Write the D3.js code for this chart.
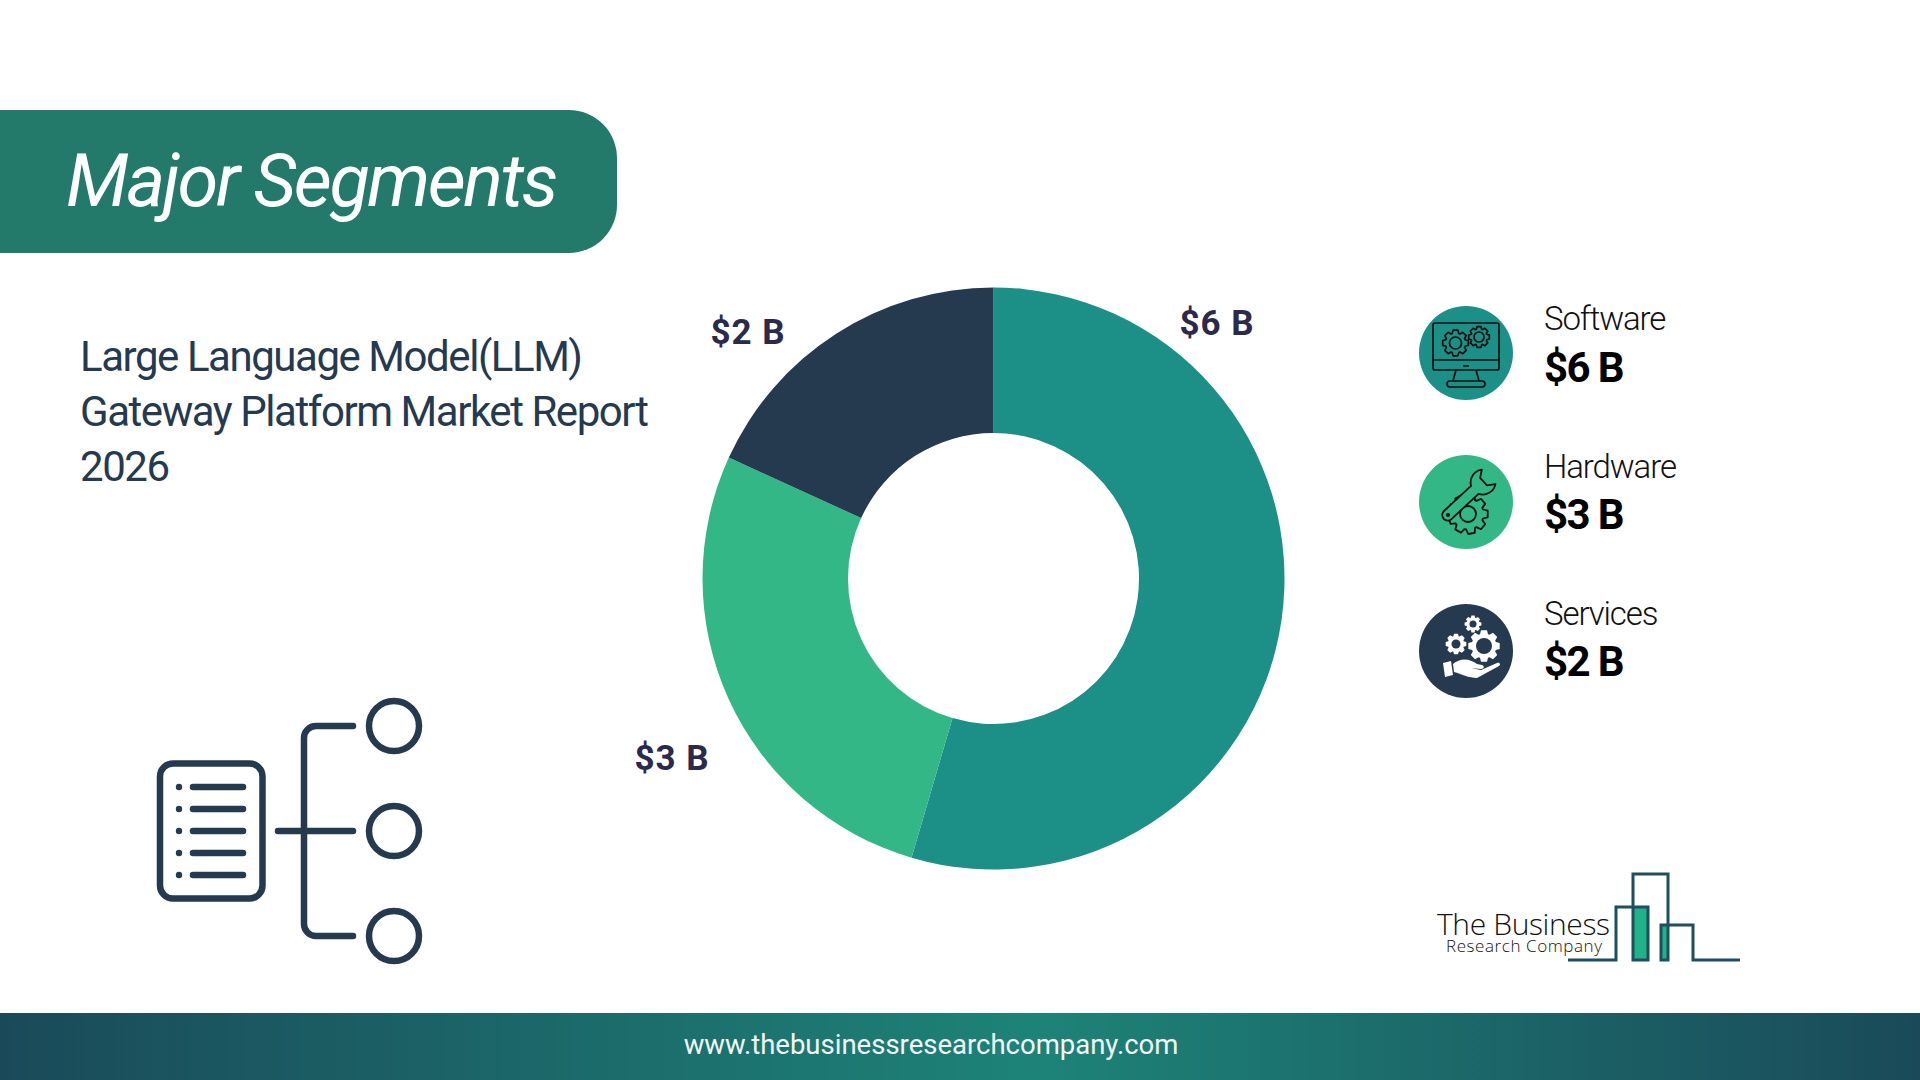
<!DOCTYPE html>
<html>
<head>
<meta charset="utf-8">
<script src="https://cdn.jsdelivr.net/npm/d3@7"></script>
<style>
  html, body { margin: 0; padding: 0; background: #fff; overflow: hidden; }
  text { font-family: Roboto, sans-serif; }
</style>
</head>
<body>
<svg class="stage" width="1920" height="1080"></svg>
<script>
// chart values
var segments = ['Software', 'Hardware', 'Services'];
var values = [6, 3, 2];
var valueLabels = ['$6 B', '$3 B', '$2 B'];
var segmentColors = ['#1c8f86', '#34b787', '#25394f'];

var titleLines = ['Large Language Model(LLM)', 'Gateway Platform Market Report', '2026'];

var svg = d3.select('.stage');
var navy = '#25394f', ink = '#111';

// footer + header
var grad = svg.append('defs').append('linearGradient').attr('id', 'foot');
[[0, '#1a4a59'], [0.54, '#1d8378'], [1, '#1a4a59']].forEach(function(s){
  grad.append('stop').attr('offset', s[0]).attr('stop-color', s[1]);
});
svg.append('rect').attr('x', 0).attr('y', 1013).attr('width', 1920).attr('height', 67).attr('fill', 'url(#foot)');
svg.append('text').attr('x', 931).attr('y', 1054).attr('text-anchor', 'middle')
  .attr('fill', '#f2f6f6').style('font-size', '27.5px').text('www.thebusinessresearchcompany.com');

svg.append('path').attr('fill', '#247a6a')
  .attr('d', 'M0,110H569a48,48 0 0 1 48,48V205a48,48 0 0 1 -48,48H0Z');
svg.append('text').attr('x', 66).attr('y', 206).attr('fill', '#fff')
  .style('font-size', '74px').style('font-style', 'italic').style('font-weight', 400)
  .style('letter-spacing', '-2.45px').text('Major Segments');

svg.selectAll('.subtitle').data(titleLines).enter().append('text')
  .attr('class', 'subtitle').attr('x', 80)
  .attr('y', function(d, i){ return 371 + i * 55; })
  .attr('fill', navy).style('font-size', '42px').style('letter-spacing', '-1.45px')
  .text(function(d){ return d; });

// donut
var pie = d3.pie().sort(null)(values);
var arc = d3.arc().innerRadius(145.5).outerRadius(291);
var donut = svg.append('g').attr('transform', 'translate(993.5,578.5)');
donut.selectAll('path').data(pie).enter().append('path')
  .attr('d', arc)
  .attr('fill', function(d, i){ return segmentColors[i]; });

var labelX = [1217, 672, 748];
var labelY = [335, 770, 344];
svg.selectAll('.slice-label').data(valueLabels).enter().append('text')
  .attr('class', 'slice-label')
  .attr('x', function(d, i){ return labelX[i]; })
  .attr('y', function(d, i){ return labelY[i]; })
  .attr('text-anchor', 'middle').attr('fill', '#2b2a4c')
  .style('font-size', '35px').style('font-weight', 700).style('letter-spacing', '1px')
  .text(function(d){ return d; });

// builds a toothed ring
var gear = function(cx, cy, r, teeth) {
  var pts = [], step = Math.PI * 2 / teeth, inner = r * 0.78;
  for (var i = 0; i < teeth; i++) {
    var a = i * step;
    [[-0.3, inner], [-0.17, r], [0.17, r], [0.3, inner]].forEach(function(p){
      pts.push([cx + Math.cos(a + p[0] * step * 1.4) * p[1], cy + Math.sin(a + p[0] * step * 1.4) * p[1]]);
    });
  }
  return 'M' + pts.map(function(p){ return p[0].toFixed(1) + ',' + p[1].toFixed(1); }).join('L') + 'Z';
};

// legend
var legendY = [353, 502, 651];
var nameY = [330, 478, 625];
var amountY = [382, 529, 676];
var legend = svg.selectAll('.legend').data(segments).enter().append('g')
  .attr('class', 'legend')
  .attr('transform', function(d, i){ return 'translate(1466,' + legendY[i] + ')'; });
legend.append('circle').attr('r', 47).attr('fill', function(d, i){ return segmentColors[i]; });
svg.selectAll('.legend-name').data(segments).enter().append('text')
  .attr('class', 'legend-name').attr('x', 1544).attr('y', function(d, i){ return nameY[i]; })
  .attr('fill', ink).style('font-size', '33px').style('font-weight', 300).style('letter-spacing', '-1.1px')
  .text(function(d){ return d; });
svg.selectAll('.legend-value').data(valueLabels).enter().append('text')
  .attr('class', 'legend-value').attr('x', 1544).attr('y', function(d, i){ return amountY[i]; })
  .attr('fill', '#000').style('font-size', '42px').style('font-weight', 700).style('letter-spacing', '-1.6px')
  .text(function(d){ return d; });

// software icon
var ic1 = legend.filter(function(d, i){ return i === 0; }).append('g')
  .attr('fill', 'none').attr('stroke', ink).attr('stroke-width', 1.7).attr('stroke-linejoin', 'round');
ic1.append('rect').attr('x', -33).attr('y', -30).attr('width', 66).attr('height', 47).attr('rx', 2);
ic1.append('path').attr('d', 'M-33,7H33M-3,13H3M-10,17L-13,28M10,17L13,28');
ic1.append('rect').attr('x', -19).attr('y', 28).attr('width', 38).attr('height', 6).attr('rx', 3);
ic1.append('path').attr('d', gear(-10.5, -10, 13, 8));
ic1.append('circle').attr('cx', -10.5).attr('cy', -10).attr('r', 6);
ic1.append('path').attr('d', gear(13, -16, 10.5, 8));
ic1.append('circle').attr('cx', 13).attr('cy', -16).attr('r', 5);

// hardware icon
var ic2 = legend.filter(function(d, i){ return i === 1; }).append('g')
  .attr('fill', 'none').attr('stroke', ink).attr('stroke-width', 1.8).attr('stroke-linejoin', 'round');
ic2.append('path').attr('d', gear(2, 12, 20, 9));
ic2.append('circle').attr('cx', 2).attr('cy', 12).attr('r', 8);
ic2.append('path').attr('transform', 'translate(0,-4) rotate(-43)')
  .attr('fill', segmentColors[1])
  .attr('d', 'M-25,-5.5H12A13,13 0 0 1 31,-10L24,-5V5L31,10A13,13 0 0 1 12,5.5H-25A5.5,5.5 0 0 1 -25,-5.5Z');
ic2.append('circle').attr('cx', -18).attr('cy', 13).attr('r', 1.2);

// services icon
var ic3 = legend.filter(function(d, i){ return i === 2; }).append('g').attr('fill', '#fff');
[[7, -27, 8.5, 3.5], [-10, -7, 10.5, 4.5], [18, -5, 16, 8]].forEach(function(g){
  ic3.append('path').attr('d', gear(g[0], g[1], g[2], 8));
  ic3.append('circle').attr('cx', g[0]).attr('cy', g[1]).attr('r', g[3]).attr('fill', navy);
});
ic3.append('path').attr('d', 'M-23,12L-15,10L-13,24L-21,26Z');
ic3.append('path').attr('d', 'M-13,13C-6,7 3,7 11,13L16,14C19,15 18,18 15,18L5,17L15,19L31,12C34,11 35,14 33,15L11,27C3,27 -5,23 -12,21Z');

// list + tree pictogram
var pic = svg.append('g').attr('fill', 'none').attr('stroke', navy).attr('stroke-width', 6.5).attr('stroke-linecap', 'round');
var rows = [787, 809, 831, 853, 875];
pic.append('rect').attr('x', 160).attr('y', 763.5).attr('width', 102.5).attr('height', 135).attr('rx', 13);
pic.selectAll('.row').data(rows).enter().append('path')
  .attr('class', 'row').attr('d', function(d){ return 'M193,' + d + 'H243'; });
pic.selectAll('.dot').data(rows).enter().append('circle')
  .attr('class', 'dot').attr('cx', 179).attr('cy', function(d){ return d; })
  .attr('r', 3.2).attr('fill', navy).attr('stroke', 'none');
pic.append('path').attr('d', 'M353,726H316a12,12 0 0 0 -12,12V924a12,12 0 0 0 12,12H353M278,831H353');
pic.selectAll('.node').data([726, 831, 936]).enter().append('circle')
  .attr('class', 'node').attr('cx', 394).attr('cy', function(d){ return d; }).attr('r', 25);

// logo
var logo = svg.append('g');
logo.append('rect').attr('x', 1633).attr('y', 907).attr('width', 15).attr('height', 53).attr('fill', '#21b287');
logo.append('rect').attr('x', 1661).attr('y', 925).attr('width', 7).attr('height', 35).attr('fill', '#21b287');
logo.append('path').attr('fill', 'none').attr('stroke', '#1d4f5f').attr('stroke-width', 3)
  .attr('d', 'M1568,960H1616V907H1648V960H1633V874H1668V960H1661V925H1693V960H1740');
logo.append('text').attr('x', 1437).attr('y', 935).attr('fill', ink)
  .attr('textLength', 173).style('font-family', 'Open Sans').style('font-weight', 300).style('font-size', '30px').text('The Business');
logo.append('text').attr('x', 1446).attr('y', 952).attr('fill', ink)
  .attr('textLength', 156).style('font-family', 'Open Sans').style('font-weight', 300).style('font-size', '17px').text('Research Company');
</script>
</body>
</html>
